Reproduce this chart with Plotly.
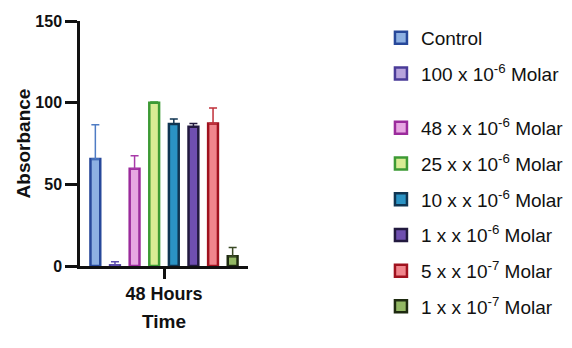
import plotly.graph_objects as go

# Absorbance at 48 hours for each treatment (mean and upper SD)
categories = ["48 Hours"]
series_names = [
    "Control",
    "100 x 10<sup>-6</sup> Molar",
    "48 x x 10<sup>-6</sup> Molar",
    "25 x x 10<sup>-6</sup> Molar",
    "10 x x 10<sup>-6</sup> Molar",
    "1 x x 10<sup>-6</sup> Molar",
    "5 x x 10<sup>-7</sup> Molar",
    "1 x x 10<sup>-7</sup> Molar",
]
means = [65.5, 0.4, 59.5, 100.0, 87.0, 85.3, 87.2, 6.0]
sd_upper = [21.0, 2.2, 8.0, 0.4, 3.0, 2.0, 9.6, 5.4]

fill_colors = ["#8db0e2", "#b7a3dc", "#e7a6e2", "#d9ec94", "#2b93c4",
               "#6f4fb0", "#f0858c", "#93b864"]
edge_colors = ["#27489a", "#4a3b98", "#9b2b9c", "#3d9a34", "#0f3552",
               "#22193f", "#a0121f", "#1e2a10"]
error_colors = ["#4f7cc4", "#5d4cb0", "#a83aa8", "#3d9a34", "#0f3552",
                "#22193f", "#c0303a", "#3a4a25"]

FONT = "Arial, Liberation Sans, sans-serif"

fig = go.Figure()
for i, name in enumerate(series_names):
    fig.add_trace(go.Bar(
        x=categories,
        y=[means[i]],
        name=name,
        legendgroup=f"g{i}",
        legend="legend" if i < 2 else "legend2",
        marker=dict(color=fill_colors[i],
                    line=dict(color=edge_colors[i], width=2.5)),
        error_y=dict(type="data", symmetric=False,
                     array=[sd_upper[i]], arrayminus=[0],
                     color=error_colors[i], thickness=1.5, width=4),
    ))

legend_common = dict(
    xref="container", yref="container", xanchor="left", yanchor="top",
    font=dict(family=FONT, size=19, color="#111111"),
    traceorder="grouped", tracegroupgap=8, maxheight=340,
    bgcolor="rgba(0,0,0,0)", borderwidth=0,
)

fig.update_layout(
    width=572, height=348,
    margin=dict(l=80, r=324, t=21, b=82),
    paper_bgcolor="white", plot_bgcolor="white",
    barmode="group", bargap=0.066, bargroupgap=0.5,
    showlegend=True,
    legend=dict(x=0.666, y=1 - 19 / 348, **legend_common),
    legend2=dict(x=0.666, y=1 - 109 / 348, **legend_common),
    font=dict(family=FONT, color="#111111"),
    xaxis=dict(
        type="category", range=[-0.5, 0.5],
        showline=True, linewidth=2.5, linecolor="#111111",
        ticks="outside", ticklen=10, tickwidth=2.5, tickcolor="#111111",
        tickfont=dict(family=FONT, size=18, weight="bold", color="#111111"),
        showgrid=False, zeroline=False,
        title=dict(text="Time", standoff=12,
                   font=dict(family=FONT, size=19, weight="bold", color="#111111")),
    ),
    yaxis=dict(
        range=[0, 150], tickvals=[0, 50, 100, 150],
        showline=True, linewidth=2.5, linecolor="#111111",
        ticks="outside", ticklen=12, tickwidth=2.5, tickcolor="#111111",
        tickfont=dict(family=FONT, size=16, weight="bold", color="#111111"),
        showgrid=False, zeroline=False,
        title=dict(text="Absorbance", standoff=0,
                   font=dict(family=FONT, size=19, weight="bold", color="#111111")),
    ),
)

fig.write_html("out.html")
